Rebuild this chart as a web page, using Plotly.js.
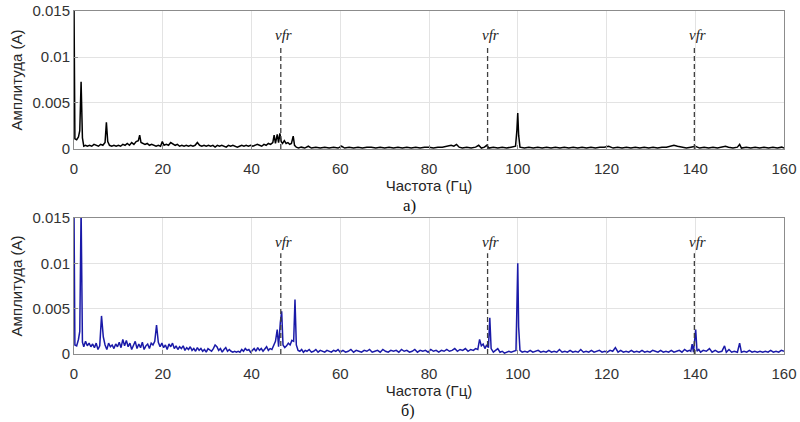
<!DOCTYPE html>
<html>
<head>
<meta charset="utf-8">
<script src="https://cdn.plot.ly/plotly-3.0.1.min.js"></script>
<style>html,body{margin:0;padding:0;background:#fff;}#chart{width:800px;height:422px;}</style>
</head>
<body>
<div id="chart"></div>
<script>
// Spectrum (a) - black
const freqA = [
  0, 0.2, 0.6, 1.0, 1.3, 1.6, 1.9, 2.2, 2.6, 3.0,
  3.5, 4.0, 4.5, 5.0, 5.5, 6.0, 6.5, 7.0, 7.3, 7.6,
  8.0, 8.5, 9.0, 9.5, 10.0, 10.5, 11.0, 11.5, 12.0, 12.5,
  13.0, 13.5, 14.0, 14.5, 14.8, 15.1, 15.5, 16.0, 16.5, 17.0,
  17.5, 18.0, 18.5, 19.0, 19.5, 19.9, 20.3, 20.8, 21.3, 21.8,
  22.3, 22.8, 23.3, 23.8, 24.3, 24.8, 25.3, 25.8, 26.3, 26.8,
  27.3, 27.8, 28.3, 28.8, 29.3, 29.8, 30.3, 30.8, 31.3, 31.8,
  32.3, 32.8, 33.3, 33.8, 34.3, 34.8, 35.3, 35.8, 36.3, 36.8,
  37.3, 37.8, 38.3, 38.8, 39.3, 39.8, 40.3, 40.8, 41.3, 41.8,
  42.3, 42.8, 43.3, 43.8, 44.3, 44.8, 45.1, 45.4, 45.8, 46.1,
  46.4, 46.7, 47.0, 47.4, 47.8, 48.2, 48.6, 49.0, 49.4, 49.7,
  50.1, 50.6, 51.2, 52.0, 52.8, 53.5, 54.5, 55.5, 56.5, 57.5,
  58.5, 59.5, 60.3, 61.0, 62.0, 63.0, 64.0, 65.0, 66.0, 67.0,
  68.0, 69.0, 70.0, 71.0, 72.0, 73.0, 74.0, 75.0, 76.0, 77.0,
  78.0, 79.0, 80.0, 81.0, 82.0, 83.0, 84.0, 85.0, 85.6, 86.2,
  86.8, 87.5, 88.5, 89.5, 90.5, 91.2, 91.8, 92.5, 93.0, 93.5,
  94.5, 95.5, 96.5, 97.5, 98.5, 99.5, 99.8, 100.0, 100.2, 100.5,
  101.5, 102.5, 103.5, 104.5, 105.5, 106.5, 107.5, 108.5, 109.5, 110.5,
  111.5, 112.5, 113.5, 114.5, 115.5, 116.5, 117.5, 118.5, 119.5, 120.5,
  121.5, 122.5, 123.5, 124.5, 125.5, 126.5, 127.5, 128.5, 129.5, 130.5,
  131.5, 132.5, 133.5, 134.5, 135.2, 136.0, 137.0, 138.0, 139.0, 140.0,
  141.0, 142.0, 143.0, 144.0, 145.0, 146.0, 146.8, 147.5, 148.5, 149.5,
  150.0, 150.4, 151.5, 152.5, 153.5, 154.5, 155.5, 156.5, 157.5, 158.5,
  159.5, 160
];
const ampA = [
  0.016, 0.0011, 0.0010, 0.0013, 0.0020, 0.0073, 0.0012, 0.0003, 0.0004, 0.0003,
  0.0004, 0.0003, 0.0005, 0.0004, 0.0003, 0.0005, 0.0004, 0.0007, 0.0029, 0.0008,
  0.0004, 0.0003, 0.0004, 0.0003, 0.0004, 0.0003, 0.0005, 0.0004, 0.0006, 0.0004,
  0.0007, 0.0005, 0.0008, 0.0009, 0.0015, 0.0007, 0.0006, 0.0005, 0.0006, 0.0004,
  0.0005, 0.0004, 0.0003, 0.0004, 0.0003, 0.0008, 0.0004, 0.0005, 0.0004, 0.0007,
  0.0005, 0.0004, 0.0005, 0.0003, 0.0004, 0.0003, 0.0004, 0.0003, 0.0004, 0.0003,
  0.0004, 0.0007, 0.0004, 0.0003, 0.0004, 0.0003, 0.0004, 0.0003, 0.0004, 0.0002,
  0.0004, 0.0003, 0.0004, 0.0003, 0.0002, 0.0004, 0.0003, 0.0004, 0.0003, 0.0002,
  0.0003, 0.0004, 0.0003, 0.0004, 0.0003, 0.0004, 0.0003, 0.0004, 0.0005, 0.0004,
  0.0003, 0.0005, 0.0004, 0.0006, 0.0005, 0.0007, 0.0015, 0.0006, 0.0016, 0.0007,
  0.0017, 0.0008, 0.0006, 0.0009, 0.0006, 0.0007, 0.0005, 0.0006, 0.0014, 0.0004,
  0.0002, 0.0001, 0.0002, 0.0001, 0.0003, 0.0001, 0.0002, 0.0001, 0.0002, 0.0001,
  0.0002, 0.0001, 0.0003, 0.0001, 0.0002, 0.0001, 0.0002, 0.0001, 0.0002, 0.0002,
  0.0001, 0.0002, 0.0001, 0.0002, 0.0001, 0.0002, 0.0001, 0.0002, 0.0001, 0.0002,
  0.0001, 0.0002, 0.0002, 0.0001, 0.0002, 0.0002, 0.0003, 0.0004, 0.0003, 0.0005,
  0.0002, 0.0001, 0.0002, 0.0001, 0.0002, 0.0004, 0.0001, 0.0002, 0.0004, 0.0001,
  0.0002, 0.0001, 0.0002, 0.0001, 0.0002, 0.0003, 0.0020, 0.0039, 0.0015, 0.0002,
  0.0001, 0.0002, 0.0001, 0.0002, 0.0001, 0.0002, 0.0001, 0.0002, 0.0001, 0.0002,
  0.0001, 0.0002, 0.0001, 0.0002, 0.0001, 0.0002, 0.0001, 0.0002, 0.0002, 0.0003,
  0.0001, 0.0002, 0.0001, 0.0002, 0.0001, 0.0002, 0.0001, 0.0002, 0.0001, 0.0002,
  0.0001, 0.0002, 0.0002, 0.0003, 0.0004, 0.0003, 0.0002, 0.0001, 0.0002, 0.0003,
  0.0001, 0.0002, 0.0001, 0.0002, 0.0001, 0.0002, 0.0003, 0.0002, 0.0001, 0.0002,
  0.0005, 0.0001, 0.0002, 0.0001, 0.0002, 0.0001, 0.0002, 0.0001, 0.0002, 0.0001,
  0.0002, 0.0001
];

// Spectrum (б) - blue
const freqB = [
  0, 0.2, 0.6, 1.0, 1.3, 1.6, 1.9, 2.2, 2.6, 3.0,
  3.4, 3.8, 4.2, 4.6, 5.0, 5.4, 5.8, 6.2, 6.6, 7.0,
  7.4, 7.8, 8.2, 8.6, 9.0, 9.4, 9.8, 10.2, 10.6, 11.0,
  11.4, 11.8, 12.2, 12.6, 13.0, 13.4, 13.8, 14.2, 14.6, 15.0,
  15.4, 15.8, 16.2, 16.6, 17.0, 17.4, 17.8, 18.2, 18.6, 19.0,
  19.4, 19.8, 20.2, 20.6, 21.0, 21.4, 21.8, 22.2, 22.6, 23.0,
  23.4, 23.8, 24.2, 24.6, 25.0, 25.4, 25.8, 26.2, 26.6, 27.0,
  27.4, 27.8, 28.2, 28.6, 29.0, 29.4, 29.8, 30.2, 30.6, 31.0,
  31.4, 31.8, 32.2, 32.6, 33.0, 33.4, 33.8, 34.2, 34.6, 35.0,
  35.4, 35.8, 36.2, 36.6, 37.0, 37.4, 37.8, 38.2, 38.6, 39.0,
  39.4, 39.8, 40.2, 40.6, 41.0, 41.4, 41.8, 42.2, 42.6, 43.0,
  43.4, 43.8, 44.2, 44.6, 45.0, 45.4, 45.8, 46.1, 46.5, 46.8,
  47.1, 47.5, 47.9, 48.3, 48.7, 49.1, 49.5, 49.8, 50.1, 50.5,
  50.9, 51.3, 51.7, 52.1, 52.5, 53.0, 53.5, 54.0, 54.5, 55.0,
  55.5, 56.0, 56.5, 57.0, 57.5, 58.0, 58.5, 59.0, 59.5, 60.0,
  60.6, 61.2, 61.8, 62.4, 63.0, 63.6, 64.2, 64.8, 65.4, 66.0,
  66.6, 67.2, 67.8, 68.4, 69.0, 69.6, 70.2, 70.8, 71.4, 72.0,
  72.6, 73.2, 73.8, 74.4, 75.0, 75.6, 76.2, 76.8, 77.4, 78.0,
  78.6, 79.2, 79.8, 80.4, 81.0, 81.6, 82.2, 82.8, 83.4, 84.0,
  84.6, 85.2, 85.8, 86.4, 87.0, 87.6, 88.2, 88.8, 89.4, 90.0,
  90.5, 91.0, 91.4, 91.8, 92.2, 92.6, 93.0, 93.4, 93.7, 94.0,
  94.5, 95.0, 95.5, 96.0, 96.5, 97.0, 97.5, 98.0, 98.5, 99.0,
  99.6, 99.8, 100.0, 100.2, 100.5, 101.0, 101.6, 102.2, 102.8, 103.4,
  104.0, 104.6, 105.2, 105.8, 106.4, 107.0, 107.6, 108.2, 108.8, 109.4,
  110.0, 110.6, 111.2, 111.8, 112.4, 113.0, 113.6, 114.2, 114.8, 115.4,
  116.0, 116.6, 117.2, 117.8, 118.4, 119.0, 119.6, 120.2, 120.8, 121.4,
  122.0, 122.6, 123.2, 123.8, 124.4, 125.0, 125.6, 126.2, 126.8, 127.4,
  128.0, 128.6, 129.2, 129.8, 130.4, 131.0, 131.6, 132.2, 132.8, 133.4,
  134.0, 134.6, 135.2, 135.8, 136.4, 137.0, 137.6, 138.2, 138.7, 139.0,
  139.3, 139.6, 139.9, 140.1, 140.4, 140.8, 141.2, 141.8, 142.5, 143.2,
  143.8, 144.5, 145.2, 146.0, 146.6, 147.0, 147.6, 148.2, 148.8, 149.5,
  150.0, 150.4, 151.0, 151.6, 152.2, 152.8, 153.4, 154.0, 154.6, 155.2,
  155.8, 156.4, 157.0, 157.6, 158.2, 158.8, 159.4, 160
];
const ampB = [
  0.016, 0.0010, 0.0009, 0.0016, 0.0025, 0.016, 0.0013, 0.0008, 0.0014, 0.0009,
  0.0012, 0.0008, 0.0011, 0.0007, 0.0012, 0.0005, 0.0009, 0.0042, 0.0019, 0.0010,
  0.0005, 0.0012, 0.0008, 0.0010, 0.0006, 0.0011, 0.0008, 0.0013, 0.0007, 0.0016,
  0.0009, 0.0015, 0.0008, 0.0012, 0.0005, 0.0010, 0.0014, 0.0006, 0.0011, 0.0007,
  0.0013, 0.0005, 0.0009, 0.0011, 0.0006, 0.0012, 0.0010, 0.0014, 0.0032, 0.0013,
  0.0008, 0.0012, 0.0007, 0.0010, 0.0005, 0.0011, 0.0008, 0.0012, 0.0006, 0.0009,
  0.0005, 0.0008, 0.0006, 0.0009, 0.0004, 0.0007, 0.0005, 0.0008, 0.0004, 0.0006,
  0.0003, 0.0007, 0.0004, 0.0006, 0.0003, 0.0005, 0.0002, 0.0006, 0.0004, 0.0003,
  0.0006, 0.0010, 0.0008, 0.0004, 0.0006, 0.0002, 0.0005, 0.0007, 0.0003, 0.0005,
  0.0003, 0.0002, 0.0003, 0.0002, 0.0003, 0.0002, 0.0005, 0.0003, 0.0006, 0.0004,
  0.0005, 0.0002, 0.0004, 0.0006, 0.0003, 0.0007, 0.0004, 0.0006, 0.0003, 0.0005,
  0.0008, 0.0004, 0.0006, 0.0005, 0.0009, 0.0014, 0.0027, 0.0008, 0.0035, 0.0047,
  0.0010, 0.0007, 0.0009, 0.0012, 0.0010, 0.0015, 0.0014, 0.0060, 0.0010, 0.0004,
  0.0003, 0.0005, 0.0002, 0.0004, 0.0003, 0.0005, 0.0002, 0.0003, 0.0005, 0.0002,
  0.0004, 0.0003, 0.0002, 0.0004, 0.0003, 0.0002, 0.0004, 0.0003, 0.0005, 0.0002,
  0.0004, 0.0002, 0.0003, 0.0005, 0.0002, 0.0004, 0.0003, 0.0002, 0.0004, 0.0003,
  0.0005, 0.0002, 0.0003, 0.0004, 0.0002, 0.0005, 0.0003, 0.0002, 0.0004, 0.0003,
  0.0004, 0.0002, 0.0005, 0.0003, 0.0004, 0.0002, 0.0003, 0.0005, 0.0002, 0.0004,
  0.0003, 0.0004, 0.0002, 0.0005, 0.0003, 0.0004, 0.0002, 0.0004, 0.0003, 0.0005,
  0.0003, 0.0004, 0.0006, 0.0003, 0.0005, 0.0004, 0.0006, 0.0003, 0.0005, 0.0004,
  0.0006, 0.0005, 0.0016, 0.0009, 0.0011, 0.0006, 0.0010, 0.0007, 0.0040, 0.0006,
  0.0002, 0.0004, 0.0006, 0.0002, 0.0003, 0.0001, 0.0002, 0.0003, 0.0002, 0.0003,
  0.0004, 0.0050, 0.0100, 0.0030, 0.0004, 0.0002, 0.0003, 0.0002, 0.0004, 0.0002,
  0.0003, 0.0004, 0.0002, 0.0003, 0.0002, 0.0004, 0.0002, 0.0003, 0.0002, 0.0005,
  0.0002, 0.0003, 0.0002, 0.0004, 0.0002, 0.0003, 0.0002, 0.0005, 0.0002, 0.0003,
  0.0002, 0.0004, 0.0002, 0.0003, 0.0004, 0.0002, 0.0003, 0.0002, 0.0004, 0.0003,
  0.0007, 0.0002, 0.0004, 0.0002, 0.0003, 0.0002, 0.0004, 0.0002, 0.0003, 0.0002,
  0.0004, 0.0002, 0.0003, 0.0002, 0.0004, 0.0003, 0.0002, 0.0004, 0.0002, 0.0003,
  0.0002, 0.0004, 0.0002, 0.0003, 0.0004, 0.0002, 0.0005, 0.0003, 0.0004, 0.0003,
  0.0011, 0.0002, 0.0018, 0.0027, 0.0003, 0.0005, 0.0002, 0.0004, 0.0003, 0.0006,
  0.0002, 0.0004, 0.0002, 0.0003, 0.0009, 0.0002, 0.0005, 0.0002, 0.0003, 0.0002,
  0.0012, 0.0002, 0.0003, 0.0002, 0.0004, 0.0002, 0.0003, 0.0002, 0.0003, 0.0002,
  0.0003, 0.0002, 0.0004, 0.0002, 0.0003, 0.0002, 0.0004, 0.0003
];

// Marked frequencies (vfr)
const vfrFreq = [46.6, 93.2, 139.8];
const vfrLineTop = 0.0111;
const vfrLabelY = 0.0124;
const vfrLabel = 'vfr';

// Axis ticks
const xTicks = [0, 20, 40, 60, 80, 100, 120, 140, 160];
const yTickVals = [0, 0.005, 0.01, 0.015];
const yTickText = ['0', '0.005', '0.01', '0.015'];

const xTitle = 'Частота (Гц)';
const yTitle = 'Амплитуда (А)';
const panelLabels = ['а)', 'б)'];

const tickFont = {family: 'Arial, Liberation Sans, sans-serif', size: 15, color: '#333333'};
const titleFont = {family: 'Arial, Liberation Sans, sans-serif', size: 15, color: '#262626'};
const serifFont = 'Liberation Serif, Times New Roman, DejaVu Serif, serif';

function xAxis(anchor) {
  return {
    anchor: anchor, domain: [0, 1], range: [0, 160],
    tickvals: xTicks, ticktext: xTicks.map(String),
    showgrid: true, gridcolor: '#e3e3e3', gridwidth: 1,
    showline: true, mirror: true, linecolor: '#8c8c8c', linewidth: 1,
    ticks: 'inside', ticklen: 4, tickcolor: '#8c8c8c',
    zeroline: false, tickfont: tickFont, ticklabelstandoff: 6,
    title: {text: xTitle, font: titleFont, standoff: 4}
  };
}
function yAxis(anchor, domain) {
  return {
    anchor: anchor, domain: domain, range: [0, 0.015],
    tickvals: yTickVals, ticktext: yTickText,
    showgrid: true, gridcolor: '#e3e3e3', gridwidth: 1,
    showline: true, mirror: true, linecolor: '#8c8c8c', linewidth: 1,
    ticks: 'inside', ticklen: 4, tickcolor: '#8c8c8c',
    zeroline: false, tickfont: tickFont,
    title: {text: yTitle, font: titleFont, standoff: 6}
  };
}

const traces = [
  {x: freqA, y: ampA, xaxis: 'x', yaxis: 'y', type: 'scatter', mode: 'lines',
   line: {color: '#000000', width: 1.5}, cliponaxis: true, showlegend: false, hoverinfo: 'skip'},
  {x: freqB, y: ampB, xaxis: 'x2', yaxis: 'y2', type: 'scatter', mode: 'lines',
   line: {color: '#1a1aa8', width: 1.5}, cliponaxis: true, showlegend: false, hoverinfo: 'skip'}
];

const shapes = [];
const annotations = [];
[['x', 'y'], ['x2', 'y2']].forEach(function(ax) {
  vfrFreq.forEach(function(f) {
    shapes.push({type: 'line', xref: ax[0], yref: ax[1], x0: f, x1: f, y0: 0, y1: vfrLineTop,
      line: {color: '#404040', width: 1.3, dash: '5px,3px'}});
    annotations.push({xref: ax[0], yref: ax[1], x: f, y: vfrLabelY, text: '<i>' + vfrLabel + '</i>',
      showarrow: false, xshift: 3, yanchor: 'middle',
      font: {family: serifFont, size: 15, color: '#222'}});
  });
});
annotations.push({xref: 'paper', yref: 'paper', x: 0.473, y: 0.4344, text: panelLabels[0],
  showarrow: false, yanchor: 'middle',
  font: {family: serifFont, size: 17, color: '#111'}});
annotations.push({xref: 'paper', yref: 'paper', x: 0.4704, y: -0.166, text: panelLabels[1],
  showarrow: false, yanchor: 'middle',
  font: {family: serifFont, size: 16, color: '#111'}});

const layout = {
  width: 800, height: 422,
  margin: {l: 74, r: 16, t: 11, b: 68},
  paper_bgcolor: '#ffffff', plot_bgcolor: '#ffffff',
  xaxis: xAxis('y'),
  yaxis: yAxis('x', [0.5977, 1]),
  xaxis2: xAxis('y2'),
  yaxis2: yAxis('x2', [0, 0.3965]),
  shapes: shapes,
  annotations: annotations,
  showlegend: false
};

Plotly.newPlot('chart', traces, layout, {displayModeBar: false, staticPlot: true});
</script>
</body>
</html>
